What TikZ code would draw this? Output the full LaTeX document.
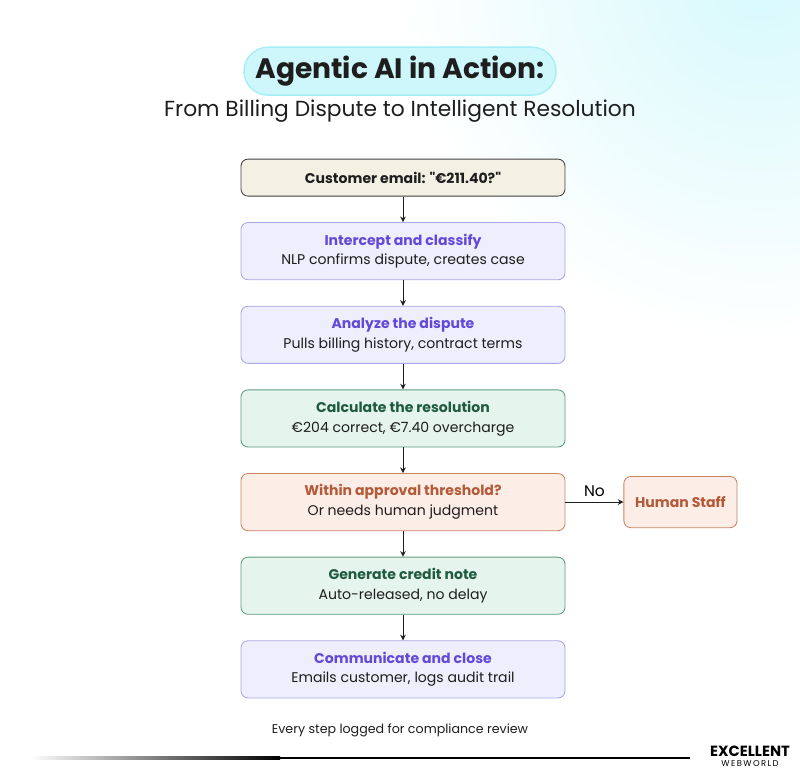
\documentclass[tikz,border=0pt]{standalone}
\usepackage{fontspec}
\setmainfont{Poppins}
\usetikzlibrary{positioning,arrows.meta}
\definecolor{inkdark}{HTML}{1E1E1E}
\definecolor{mailfill}{HTML}{F3F0E4}
\definecolor{bluefill}{HTML}{EFEEFC}
\definecolor{blueline}{HTML}{A9A6E6}
\definecolor{bluetext}{HTML}{6448D8}
\definecolor{greenfill}{HTML}{E6F4EE}
\definecolor{greenline}{HTML}{5E9C80}
\definecolor{greentext}{HTML}{1F5B3F}
\definecolor{orangefill}{HTML}{FDEDE7}
\definecolor{orangeline}{HTML}{C98466}
\definecolor{orangetext}{HTML}{B35A38}
\definecolor{pillfill}{HTML}{CDF7FB}
\definecolor{pillline}{HTML}{A6EEF5}
\tikzset{
  stage/.style={draw, rounded corners=5pt, minimum width=8.1cm, minimum height=1.43cm, align=center, font=\fontsize{10}{14}\selectfont, text=inkdark, line width=0.6pt},
  blue stage/.style={stage, fill=bluefill, draw=blueline},
  green stage/.style={stage, fill=greenfill, draw=greenline},
  orange stage/.style={stage, fill=orangefill, draw=orangeline},
  flow/.style={-{Stealth[length=4pt,width=4pt]}, line width=0.6pt, draw=inkdark}
}
\begin{document}
\begin{tikzpicture}
  \useasboundingbox (0,0) rectangle (20,-19.425);
  % background
  \fill[white] (0,0) rectangle (20,-19.425);
  \begin{scope}
    \clip (0,0) rectangle (20,-19.425);
    \shade[inner color=pillfill!80, outer color=white] (19,0.5) circle (9cm);
  \end{scope}

  % title
  \node[fill=pillfill, draw=pillline, line width=1pt, rounded corners=0.6cm, minimum width=7.8cm, minimum height=1.2cm, font=\bfseries\fontsize{20}{24}\selectfont, text=inkdark] (title) at (10,-1.78) {Agentic AI in Action:};
  \node[font=\fontsize{15.5}{18}\selectfont, text=inkdark] (subtitle) at (10,-2.78) {From Billing Dispute to Intelligent Resolution};

  % stages
  \node[stage, fill=mailfill, draw=inkdark!85, minimum height=0.925cm, font=\bfseries\fontsize{10}{14}\selectfont] (mail) at (10.075,-4.44) {Customer email: \textquotedbl€211.40?\textquotedbl};
  \node[blue stage, below=0.64cm of mail] (classify) {\textbf{\textcolor{bluetext}{Intercept and classify}}\\NLP confirms dispute, creates case};
  \node[blue stage, below=0.64cm of classify] (analyze) {\textbf{\textcolor{bluetext}{Analyze the dispute}}\\Pulls billing history, contract terms};
  \node[green stage, below=0.64cm of analyze] (calc) {\textbf{\textcolor{greentext}{Calculate the resolution}}\\€204 correct, €7.40 overcharge};
  \node[orange stage, below=0.64cm of calc] (check) {\textbf{\textcolor{orangetext}{Within approval threshold?}}\\Or needs human judgment};
  \node[green stage, below=0.64cm of check] (credit) {\textbf{\textcolor{greentext}{Generate credit note}}\\Auto-released, no delay};
  \node[blue stage, below=0.64cm of credit] (close) {\textbf{\textcolor{bluetext}{Communicate and close}}\\Emails customer, logs audit trail};
  \node[orange stage, minimum width=2.83cm, minimum height=1.28cm, font=\bfseries\fontsize{10}{14}\selectfont, text=orangetext, right=1.45cm of check] (human) {Human Staff};

  % connectors
  \draw[flow] (mail) -- (classify);
  \draw[flow] (classify) -- (analyze);
  \draw[flow] (analyze) -- (calc);
  \draw[flow] (calc) -- (check);
  \draw[flow] (check) -- (credit);
  \draw[flow] (credit) -- (close);
  \draw[flow] (check.east) -- node[above, font=\fontsize{11}{12}\selectfont, text=black] {No} (human.west);

  % footer
  \node[font=\fontsize{9}{11}\selectfont, text=inkdark] (note) at (10,-18.25) {Every step logged for compliance review};
  \shade[left color=white, right color=black] (0.75,-18.92) rectangle (7,-18.98);
  \fill[black] (7,-18.92) rectangle (17.25,-18.98);
  \node[font=\bfseries\fontsize{10.5}{11}\selectfont, text=black, inner sep=0pt] (logo) at (18.75,-18.78) {EXCELLENT};
  \node[font=\fontsize{6}{6}\selectfont, text=black, inner sep=0pt, below=0.1cm of logo] (logosub) {W\,E\,B\,W\,O\,R\,L\,D};
\end{tikzpicture}
\end{document}
